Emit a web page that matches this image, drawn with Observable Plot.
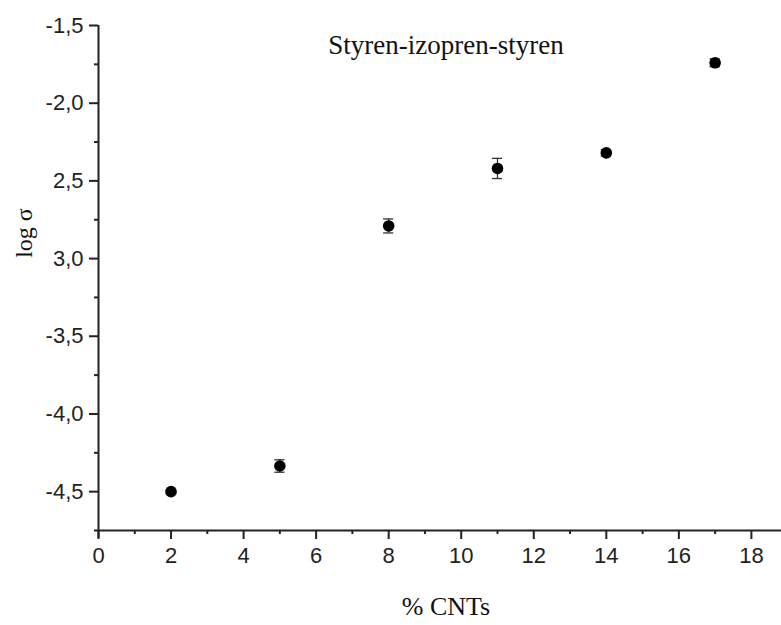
<!DOCTYPE html>
<html><head><meta charset="utf-8">
<script src="https://cdn.jsdelivr.net/npm/d3@7"></script>
<script src="https://cdn.jsdelivr.net/npm/@observablehq/plot@0.6"></script>
<style>html,body{margin:0;padding:0;background:#fff} svg{display:block}</style>
</head><body><div id="chart"></div>
<script>
const cnt = [2, 5, 8, 11, 14, 17];
const logSigma = [-4.50, -4.335, -2.79, -2.42, -2.32, -1.74];
const errors = [0.01, 0.04, 0.045, 0.065, 0.02, 0.025];
const yTickValues = [-1.5, -2.0, -2.5, -3.0, -3.5, -4.0, -4.5];
const yTickLabels = ["-1,5", "-2,0", "2,5", "3,0", "-3,5", "-4,0", "-4,5"];
const yMinorTicks = [-1.75, -2.25, -2.75, -3.25, -3.75, -4.25];
const xTickValues = [0, 2, 4, 6, 8, 10, 12, 14, 16, 18];
const xMinorTicks = [1, 3, 5, 7, 9, 11, 13, 15, 17];
const title = "Styren-izopren-styren";
const xLabel = "% CNTs";
const yLabel = "log σ";

const data = cnt.map((x, i) => ({x, y: logSigma[i], e: errors[i]}));
const serif = "'Liberation Serif', 'Times New Roman', serif";
const axisColor = "#222";

const plot = Plot.plot({
  width: 781,
  height: 625,
  marginLeft: 98,
  marginRight: 0,
  marginTop: 25,
  marginBottom: 95,
  x: {domain: [0, 18.83]},
  y: {domain: [-4.75, -1.5]},
  style: {fontFamily: "'Liberation Sans', Arial, sans-serif", fontSize: "22px", color: axisColor, background: "#fff", overflow: "visible"},
  marks: [
    Plot.axisY(yTickValues, {tickSize: 9, tickPadding: 6, strokeWidth: 2, fontSize: 22, label: null,
      tickFormat: d => yTickLabels[yTickValues.indexOf(d)]}),
    Plot.axisY(yMinorTicks, {tickSize: 4, strokeWidth: 2, label: null, tickFormat: () => ""}),
    Plot.axisX(xTickValues, {tickSize: 9, tickPadding: 8, strokeWidth: 2, fontSize: 22, label: null}),
    Plot.axisX(xMinorTicks, {tickSize: 4, strokeWidth: 2, label: null, tickFormat: () => ""}),
    Plot.ruleX([0], {y1: -1.5, y2: -4.8, stroke: axisColor, strokeWidth: 2}),
    Plot.ruleY([-4.75], {x1: -0.11, x2: 18.83, stroke: axisColor, strokeWidth: 2}),
    Plot.ruleX(data, {x: "x", y1: d => d.y - d.e, y2: d => d.y + d.e, stroke: "#333", strokeWidth: 1.3}),
    Plot.ruleY(data, {y: d => d.y + d.e, x1: d => d.x - 0.14, x2: d => d.x + 0.14, stroke: "#333", strokeWidth: 1.3}),
    Plot.ruleY(data, {y: d => d.y - d.e, x1: d => d.x - 0.14, x2: d => d.x + 0.14, stroke: "#333", strokeWidth: 1.3}),
    Plot.dot(data, {x: "x", y: "y", r: 5.8, fill: "#000", stroke: null}),
    Plot.text([title], {frameAnchor: "top", text: d => d, dx: 6, dy: 28, lineAnchor: "bottom",
      fontFamily: serif, fontSize: 27, fill: "#111"}),
    Plot.text([xLabel], {frameAnchor: "bottom", text: d => d, dx: 6, dy: 84, lineAnchor: "bottom",
      fontFamily: serif, fontSize: 26, fill: "#111"}),
    Plot.text([yLabel], {frameAnchor: "left", text: d => d, dx: -74, dy: -45, rotate: -90,
      textAnchor: "middle", lineAnchor: "middle", fontFamily: serif, fontSize: 24, fill: "#111"})
  ]
});
document.getElementById("chart").appendChild(plot);
</script>
</body></html>
